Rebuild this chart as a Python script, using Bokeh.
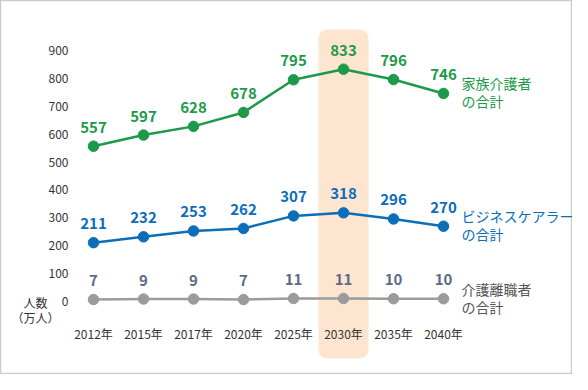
from bokeh.plotting import figure
from bokeh.models import BoxAnnotation, Range1d
from bokeh.core.properties import value
from bokeh.embed import file_html
from bokeh.resources import INLINE

# ---- data ----
years = ["2012年", "2015年", "2017年", "2020年", "2025年", "2030年", "2035年", "2040年"]
family_carers = [557, 597, 628, 678, 795, 833, 796, 746]
business_carers = [211, 232, 253, 262, 307, 318, 296, 270]
care_leavers = [7, 9, 9, 7, 11, 11, 10, 10]
y_ticks = [0, 100, 200, 300, 400, 500, 600, 700, 800, 900]
highlight_year = "2030年"
series_names = ["家族介護者\nの合計", "ビジネスケアラー\nの合計", "介護離職者\nの合計"]
unit_label = "人数\n（万人）"

FONT = "Noto Sans CJK JP"
GREEN = "#1c9a4a"
BLUE = "#0b6eb9"
GRAY = "#9b9b9b"
GRAY_LABEL = "#5d6b8b"
GRAY_NAME = "#555555"
BAND = "#fde5d0"
TEXT = "#333333"

xs = list(range(len(years)))

p = figure(width=572, height=374, output_backend="svg", toolbar_location=None,
           x_range=Range1d(-1.86, 9.58), y_range=Range1d(-261.7, 1079.3),
           min_border_left=0, min_border_right=0, min_border_top=0, min_border_bottom=0)
p.outline_line_color = "#cccccc"
p.outline_line_width = 1.5
p.xgrid.visible = False
p.ygrid.visible = False
p.xaxis.visible = False
p.yaxis.visible = False
p.background_fill_color = "white"
p.border_fill_color = "white"

hi = years.index(highlight_year)
band = BoxAnnotation(left=hi - 0.5, right=hi + 0.5, top=975, bottom=-204,
                     fill_color=BAND, fill_alpha=1.0, line_color=None,
                     border_radius=9, level="underlay")
p.add_layout(band)

# y tick labels (value axis)
p.text([-0.5] * len(y_ticks), y_ticks, text=[str(t) for t in y_ticks],
       text_align="right", text_baseline="middle",
       text_font=value(FONT), text_font_size="12px", text_color=TEXT)

# unit label
p.text([-1.16], [-30.5], text=[unit_label], text_align="center", text_baseline="middle",
       text_font=value(FONT), text_font_size="12px", text_color=TEXT,
       text_line_height=0.85)

series = [(family_carers, GREEN, GREEN, GREEN),
          (business_carers, BLUE, BLUE, BLUE),
          (care_leavers, GRAY, GRAY_LABEL, GRAY_NAME)]

for (vals, col, lab_col, name_col), name in zip(series, series_names):
    p.line(xs, vals, line_color=col, line_width=2.5)
    p.scatter(xs, vals, size=10.5, fill_color=col, line_color=col)
    p.text(xs, vals, text=[str(v) for v in vals], text_align="center",
           text_baseline="alphabetic", y_offset=-19,
           text_font=value(FONT), text_font_size="15px", text_font_style="bold",
           text_color=lab_col)
    p.text([xs[-1]], [vals[-1]], text=[name], text_align="left", text_baseline="middle",
           x_offset=18, y_offset=-1, text_font=value(FONT), text_font_size="14px",
           text_color=name_col, text_line_height=0.9)

# x category labels
p.text(xs, [-114.7] * len(xs), text=years, text_align="center", text_baseline="middle",
       text_font=value(FONT), text_font_size="12px", text_color=TEXT)

open("out.html", "w").write(file_html(p, INLINE))
